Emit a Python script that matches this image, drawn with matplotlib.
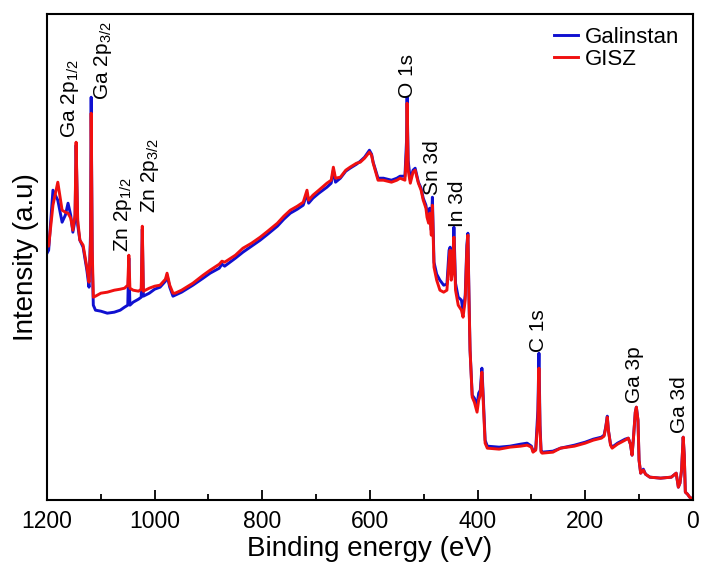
import matplotlib
matplotlib.use("Agg")
import matplotlib.pyplot as plt
from matplotlib.ticker import MultipleLocator

plt.rcParams["font.family"] = ["Liberation Sans", "DejaVu Sans"]
plt.rcParams["mathtext.fontset"] = "custom"
plt.rcParams["mathtext.rm"] = "Liberation Sans"
plt.rcParams["mathtext.it"] = "Liberation Sans:italic"

# binding energy (eV)
energia = [
    1200, 1197, 1189, 1180, 1172, 1166, 1161, 1156, 1152, 1148, 1146, 1143, 1139, 1133,
    1126, 1122, 1119, 1118, 1116, 1114, 1110, 1100, 1088, 1075, 1064, 1056, 1050, 1048,
    1046, 1040, 1030, 1025, 1023, 1021, 1010, 1000, 990, 980, 977, 972, 966, 962, 950,
    929, 910, 897, 880, 875, 870, 850, 836, 820, 804, 790, 772, 760, 748, 735, 724, 717,
    714, 706, 695, 680, 672, 668, 664, 655, 645, 637, 625, 618, 610, 601, 597, 594, 585,
    575, 560, 550, 544, 535, 532, 531, 529, 525, 520, 516, 510, 505, 501, 496, 494, 491,
    489, 486, 484, 482, 481, 476, 470, 463, 457, 453, 451, 449, 446, 444, 441, 436, 430,
    427, 423, 420, 418, 416, 414, 410, 406, 401, 398, 395, 392, 390, 386, 382, 360, 340,
    320, 308, 300, 297, 292, 288, 286, 284, 282, 280, 260, 246, 220, 200, 185, 170, 165,
    162, 159, 157, 153, 150, 140, 126, 120, 116, 113, 110, 107, 105, 102, 100, 97, 92,
    88, 80, 60, 40, 31, 27, 24, 21, 18, 16, 14, 10, 6, 0,
]

# intensity (a.u.), Galinstan
galinstan = [
    247, 250, 310, 300, 278, 285, 297, 285, 268, 280, 355, 275, 260, 253,
    230, 213, 270, 403, 240, 195, 190, 189, 187, 188, 190, 193, 195, 242,
    195, 198, 201, 203, 271, 204, 207, 211, 213, 219, 225, 213, 204, 205, 208,
    215, 222, 227, 232, 236, 234, 242, 248, 254, 260, 266, 274, 281, 287, 291, 295, 307,
    297, 302, 307, 313, 317, 330, 318, 322, 329, 332, 336, 339, 343, 350, 346, 338, 322,
    322, 320, 322, 324, 324, 360, 403, 340, 320, 330, 332, 318, 312, 302, 295, 288, 282,
    292, 270, 303, 260, 238, 226, 220, 215, 216, 250, 253, 228, 235, 273, 217, 203, 200,
    188, 205, 255, 267, 205, 150, 105, 102, 95, 107, 110, 132, 110, 60, 54, 53, 54,
    56, 57, 54, 49, 51, 90, 147, 75, 49, 48, 49, 52, 55, 58, 61, 63, 65,
    73, 84, 70, 56, 53, 57, 61, 62, 56, 45, 65, 88, 93, 80, 40, 27, 31,
    26, 23, 22, 23, 27, 13, 17, 30, 63, 45, 8, 6, 3, 1,
]

# intensity (a.u.), GISZ
gisz = [
    260, 254, 295, 318, 290, 288, 287, 282, 270, 285, 358, 280, 260, 255,
    233, 218, 260, 387, 250, 203, 204, 207, 208, 210, 211, 212, 215, 245,
    212, 210, 209, 211, 274, 209, 212, 214, 215, 221, 227, 215, 207, 207, 210,
    217, 225, 230, 236, 239, 238, 245, 252, 257, 263, 269, 277, 284, 290, 294, 298, 310,
    300, 305, 310, 317, 320, 333, 322, 323, 330, 333, 337, 338, 342, 348, 345, 337, 320,
    320, 318, 320, 322, 320, 350, 397, 330, 317, 328, 330, 317, 310, 300, 292, 283, 277,
    287, 265, 295, 255, 233, 220, 210, 208, 210, 240, 250, 220, 230, 263, 210, 195, 190,
    183, 200, 250, 265, 200, 150, 103, 98, 88, 100, 105, 128, 105, 57, 52, 51, 53,
    54, 55, 53, 48, 50, 80, 132, 70, 48, 47, 48, 52, 54, 57, 60, 62, 64,
    72, 83, 70, 55, 52, 56, 60, 62, 56, 45, 65, 88, 93, 80, 40, 27, 30,
    26, 23, 22, 23, 27, 13, 17, 30, 63, 45, 8, 6, 3, 1,
]

# peak labels: text, energy, height of the label base
picos = ["Ga 2p$_{\\mathregular{1/2}}$", "Ga 2p$_{\\mathregular{3/2}}$",
         "Zn 2p$_{\\mathregular{1/2}}$", "Zn 2p$_{\\mathregular{3/2}}$",
         "O 1s", "Sn 3d", "In 3d", "C 1s", "Ga 3p", "Ga 3d"]
picos_energia = [1157, 1096, 1059, 1009, 531, 483, 438, 287, 109, 25]
picos_altura = [362, 400, 248, 287, 402, 305, 273, 148, 97, 67]


def gerar_grafico():
    fig, ax = plt.subplots(figsize=(7.02, 5.69), dpi=100)
    fig.subplots_adjust(left=0.067, right=0.987, bottom=0.121, top=0.975)

    ax.plot(energia, galinstan, color="#1010d0", lw=2.1, label="Galinstan")
    ax.plot(energia, gisz, color="#f01010", lw=2.1, label="GISZ")

    for txt, e, h in zip(picos, picos_energia, picos_altura):
        ax.text(e, h, txt, rotation=90, ha="center", va="bottom", fontsize=15)

    ax.set_xlim(1200, 0)
    ax.set_ylim(0, 486)
    ax.xaxis.set_major_locator(MultipleLocator(200))
    ax.xaxis.set_minor_locator(MultipleLocator(100))
    ax.set_yticks([])
    ax.tick_params(axis="x", which="major", direction="in", length=7, width=1.3,
                   labelsize=16.5, pad=7)
    ax.tick_params(axis="x", which="minor", direction="in", length=4, width=1.3)
    for s in ax.spines.values():
        s.set_linewidth(1.5)

    ax.set_xlabel("Binding energy (eV)", fontsize=20, labelpad=2)
    ax.set_ylabel("Intensity (a.u)", fontsize=20, labelpad=6)

    ax.legend(loc="upper right", bbox_to_anchor=(1.01, 1.015), frameon=False,
              fontsize=16, handlelength=1.1, handletextpad=0.3, labelspacing=0.05)

    fig.savefig("out.png", dpi=100)


def main():
    gerar_grafico()


if __name__ == "__main__":
    main()
